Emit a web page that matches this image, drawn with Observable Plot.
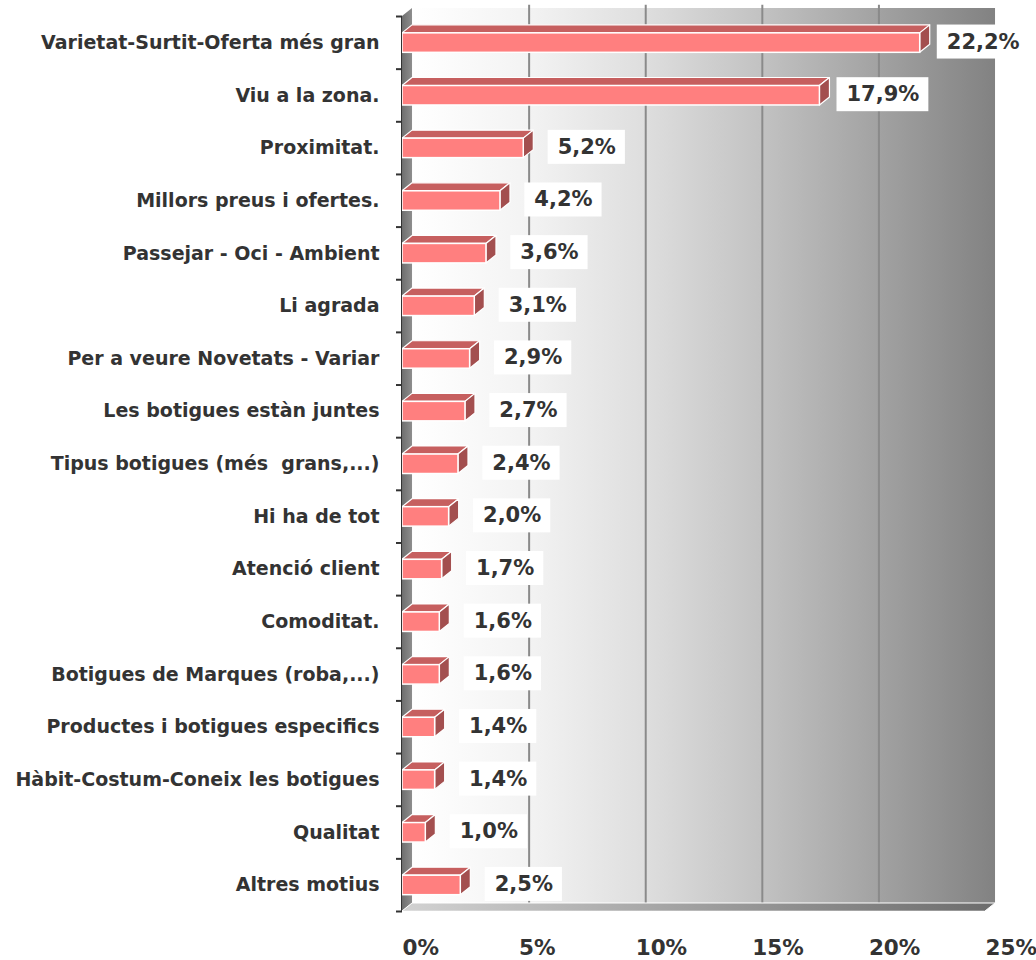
<!DOCTYPE html>
<html><head><meta charset="utf-8">
<script src="https://cdn.jsdelivr.net/npm/d3@7"></script>
<script src="https://cdn.jsdelivr.net/npm/@observablehq/plot@0.6"></script>
<style>body{margin:0;background:#fff;}</style>
</head><body><div id="chart"></div>
<script>
const categories = [
  "Varietat-Surtit-Oferta més gran",
  "Viu a la zona.",
  "Proximitat.",
  "Millors preus i ofertes.",
  "Passejar - Oci - Ambient",
  "Li agrada",
  "Per a veure Novetats - Variar",
  "Les botigues estàn juntes",
  "Tipus botigues (més  grans,...)",
  "Hi ha de tot",
  "Atenció client",
  "Comoditat.",
  "Botigues de Marques (roba,...)",
  "Productes i botigues especifics",
  "Hàbit-Costum-Coneix les botigues",
  "Qualitat",
  "Altres motius"
];
const values = [22.2, 17.9, 5.2, 4.2, 3.6, 3.1, 2.9, 2.7, 2.4, 2.0, 1.7, 1.6, 1.6, 1.4, 1.4, 1.0, 2.5];
const xTicks = [0, 5, 10, 15, 20, 25];
const gridTicks = [5, 10, 15, 20];

const N = categories.length;
const XMAX = 25;
const DX = 0.43, DY = 0.152, F0 = 0.32, F1 = 0.69;
const fmt = v => v.toFixed(1).replace(".", ",") + "%";

const rows = categories.map((c, i) => ({c, v: values[i], i}));
const tops = rows.flatMap(d => [
  {i: d.i, y: d.i + F0, x1: 0, x2: d.v},
  {i: d.i, y: d.i + F0 - DY, x1: DX, x2: d.v + DX}
]);
const sides = rows.flatMap(d => [
  {i: d.i, x: d.v, y1: d.i + F0, y2: d.i + F1},
  {i: d.i, x: d.v + DX, y1: d.i + F0 - DY, y2: d.i + F1 - DY}
]);

const plot = Plot.plot({
  width: 1036, height: 960,
  marginLeft: 402, marginRight: 51, marginTop: 16, marginBottom: 49,
  x: {domain: [0, XMAX], axis: null},
  y: {domain: [0, N], reverse: true, axis: null},
  style: {fontFamily: "DejaVu Sans", background: "white", overflow: "visible"},
  marks: [
    Plot.rect([0], {x1: DX, x2: XMAX + DX, y1: -DY, y2: N - DY, fill: "url(#wallGrad)"}),
    Plot.ruleX(gridTicks, {x: d => d + DX, y1: -DY - 0.06, y2: N - DY, stroke: "#8a8a8a", strokeWidth: 2}),
    Plot.areaY([{x: 0, y1: 0, y2: N}, {x: DX, y1: -DY, y2: N - DY}], {x: "x", y1: "y1", y2: "y2", fill: "url(#leftGrad)"}),
    Plot.areaX([{y: N, x1: 0, x2: XMAX}, {y: N - DY, x1: DX, x2: XMAX + DX}], {y: "y", x1: "x1", x2: "x2", fill: "url(#floorGrad)", stroke: "white", strokeWidth: 1}),
    Plot.areaX(tops, {y: "y", x1: "x1", x2: "x2", z: "i", fill: "#c65f5f", stroke: "white", strokeWidth: 1.2}),
    Plot.areaY(sides, {x: "x", y1: "y1", y2: "y2", z: "i", fill: "#a34f4f", stroke: "white", strokeWidth: 1.2}),
    Plot.rect(rows, {x1: 0, x2: "v", y1: d => d.i + F0, y2: d => d.i + F1, fill: "#ff7f7f", stroke: "white", strokeWidth: 1.5}),
    Plot.ruleX([0], {y1: 0, y2: N, stroke: "#333", strokeWidth: 1, dx: -1}),
    Plot.axisY(d3.range(N + 1), {anchor: "left", tickSize: 6, tickFormat: () => "", stroke: "#333", strokeWidth: 2}),
    Plot.text(rows, {x: 0, y: d => d.i + 0.5, text: "c", dx: -23, textAnchor: "end", fontSize: 19, fontWeight: "bold", fill: "#333"}),
    Plot.text(rows, {x: "v", y: d => d.i + 0.5, text: d => fmt(d.v), dx: 63, dy: -1, textAnchor: "middle", fontSize: 21, fontWeight: "bold", fill: "#333"}),
    Plot.text(xTicks, {x: d => d, y: N, dy: 37, text: d => d + "%", textAnchor: "start", fontSize: 21.5, fontWeight: "bold", fill: "#333"})
  ]
});

document.getElementById("chart").append(plot);
const svg = plot.tagName.toLowerCase() === "svg" ? plot : plot.querySelector("svg");
const ns = "http://www.w3.org/2000/svg";
const defs = document.createElementNS(ns, "defs");
defs.innerHTML = `
  <linearGradient id="wallGrad" x1="0" y1="0" x2="1" y2="0">
    <stop offset="0" stop-color="#ffffff"/>
    <stop offset="0.2" stop-color="#f3f3f3"/>
    <stop offset="0.4" stop-color="#dedede"/>
    <stop offset="0.6" stop-color="#c2c2c2"/>
    <stop offset="0.8" stop-color="#a2a2a2"/>
    <stop offset="1" stop-color="#828282"/>
  </linearGradient>
  <linearGradient id="leftGrad" x1="0" y1="0" x2="1" y2="0">
    <stop offset="0" stop-color="#6e6e6e"/>
    <stop offset="1" stop-color="#8e8e8e"/>
  </linearGradient>
  <linearGradient id="floorGrad" x1="0" y1="0" x2="1" y2="0">
    <stop offset="0" stop-color="#d2d2d2"/>
    <stop offset="1" stop-color="#6c6c6c"/>
  </linearGradient>`;
svg.insertBefore(defs, svg.firstChild);

const valueTexts = new Set(values.map(fmt));
svg.querySelectorAll("text").forEach(t => {
  if (!valueTexts.has(t.textContent.trim())) return;
  const b = t.getBBox();
  const r = document.createElementNS(ns, "rect");
  const cy = b.y + b.height / 2;
  r.setAttribute("x", b.x - 10);
  r.setAttribute("y", cy - 17);
  r.setAttribute("width", b.width + 19);
  r.setAttribute("height", 34);
  r.setAttribute("fill", "white");
  r.setAttribute("stroke", "none");
  const tr = t.getAttribute("transform");
  if (tr) r.setAttribute("transform", tr);
  t.parentNode.insertBefore(r, t);
});
</script>
</body></html>
